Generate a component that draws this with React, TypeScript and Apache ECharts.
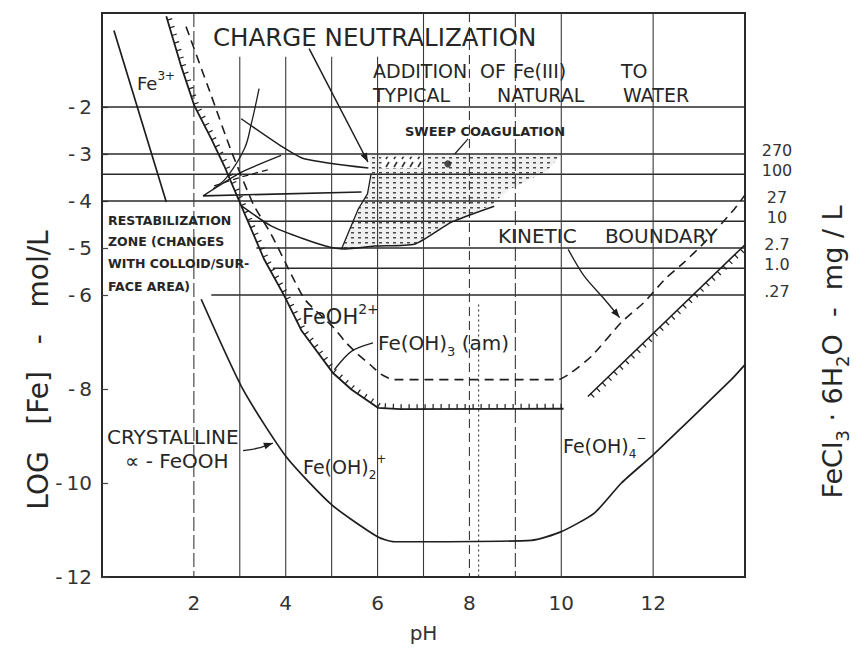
import React, { useEffect, useRef } from 'react';
import * as echarts from 'echarts';

const FONT = '"DejaVu Sans", "Liberation Sans", sans-serif';
const INK = '#1e1e1e';
const TXT = '#262626';

// axis ticks
const xTickValues = [2, 4, 6, 8, 10, 12];
const yTickValues = [-2, -3, -4, -5, -6, -8, -10, -12];

// FeCl3·6H2O reference levels (log mol/L) and their mg/L labels
const levelLogs = [-2, -3, -3.43, -4, -4.43, -5, -5.43, -6];
const levelStartPH = [0, 0, 0, 0, 3.18, 3.36, 3.72, 2.38];
const levelMgL = ['', '270', '100', '27', '10', '2.7', '1.0', '.27'];

// vertical pH guide lines
const guidePH = [2, 3, 4, 5, 6, 7, 8, 8.2, 9, 10, 12];
const guideTopLog = [0, -0.93, -0.93, -0.93, -0.93, 0, 0, -6.2, 0, 0, 0];

// crystalline alpha-FeOOH solubility (gap behind the restabilization note)
const crystPH = [0.26, 1.4, 1.45, 2.16, 3.07, 4.01, 5.01, 6.01, 6.36, 9.35, 9.99, 10.72, 11.31, 12.0, 13.7, 14.0];
const crystLog = [-0.37, -4.02, null, -6.09, -8.01, -9.44, -10.47, -11.15, -11.25, -11.22, -11.04, -10.64, -10.0, -9.4, -7.8, -7.48];

// amorphous Fe(OH)3 boundary (hatched)
const amPH = [1.4, 1.72, 2.01, 2.38, 2.66, 3.03, 3.53, 3.97, 4.34, 5.03, 5.43, 6.01, 6.5, 10.05];
const amLog = [-0.07, -1.12, -1.97, -2.68, -3.25, -4.1, -5.24, -6.02, -6.75, -7.66, -8.01, -8.4, -8.43, -8.42];

// dashed Fe(OH)3(am) curve
const dashPH = [1.83, 2.38, 2.8, 3.3, 3.68, 4.12, 4.42, 5.05, 5.3, 5.56, 5.86, 6.08, 6.35, 9.93, 10.22, 10.66, 11.31, 11.81, 12.25, 12.68, 13.12, 13.77, 14.0];
const dashLog = [-0.29, -1.76, -2.9, -4.08, -4.7, -5.56, -6.1, -6.7, -7.0, -7.25, -7.5, -7.69, -7.8, -7.8, -7.65, -7.3, -6.58, -6.15, -5.67, -5.3, -4.88, -4.17, -3.87];

// high-pH hatched kinetic line
const rhPH = [10.58, 14.0];
const rhLog = [-8.16, -4.93];

// sweep coagulation zone
const sweepPH = [5.82, 10.0, 9.68, 8.8, 8.48, 7.61, 6.8, 5.21, 5.58, 5.78, 5.86];
const sweepLog = [-3.02, -3.02, -3.36, -3.79, -4.09, -4.45, -4.92, -5.03, -4.17, -3.85, -3.42];
const sweepHatchPH = [6.08, 7.02, 7.02, 6.08];
const sweepHatchLog = [-3.06, -3.06, -3.3, -3.3];
const sweepEdgePH = [5.21, 5.58, 5.78, 5.86];
const sweepEdgeLog = [-5.03, -4.17, -3.85, -3.42];
const optimumPH = [7.53];
const optimumLog = [-3.21];

// restabilization / sweep lower boundary
const restabPH = [3.03, 3.68, 4.4, 4.99, 5.3, 5.93, 6.8, 7.61, 8.54];
const restabLog = [-4.1, -4.53, -4.81, -4.99, -5.02, -4.96, -4.92, -4.45, -4.11];

// charge neutralization wedge
const cnAPH = [2.2, 5.65];
const cnALog = [-3.89, -3.81];
const cnBPH = [3.03, 3.9, 4.4, 5.8];
const cnBLog = [-2.25, -2.83, -3.1, -3.3];
const cnCPH = [2.2, 3.03, 3.9];
const cnCLog = [-3.89, -3.39, -3.03];
const cnArcPH = [3.42, 3.25, 3.1, 2.72, 2.42];
const cnArcLog = [-1.61, -2.36, -2.89, -3.49, -3.74];
const cnDashPH = [2.44, 3.03, 3.68];
const cnDashLog = [-3.68, -3.49, -3.32];

// pointers
const cnArrowPH = [4.51, 5.79];
const cnArrowLog = [-0.76, -3.17];
const kinArrowPH = [10.15, 10.5, 10.94, 11.27];
const kinArrowLog = [-5.03, -5.6, -6.09, -6.48];
const crystArrowPH = [3.07, 3.39, 3.72];
const crystArrowLog = [-9.31, -9.26, -9.15];
const amPointerPH = [5.9, 5.43, 5.06];
const amPointerLog = [-7.02, -7.2, -7.59];
const sweepPointerPH = [7.97, 7.68];
const sweepPointerLog = [-2.68, -3.0];

type PathOpt = { width?: number; dash?: number[]; ticks?: number; arrow?: boolean; smooth?: number; color?: string };

function pathSeries(xs: number[], ys: number[], o: PathOpt) {
  const pts = xs.map((x, i) => [x, ys[i]]);
  return {
    type: 'custom',
    silent: true,
    z: 4,
    clip: false,
    data: pts,
    encode: { x: 0, y: 1 },
    renderItem: (params: any, api: any) => {
      if (params.dataIndex !== 0) return null;
      const p = pts.map((q) => api.coord(q));
      const color = o.color || INK;
      const children: any[] = [
        {
          type: 'polyline',
          shape: { points: p, smooth: o.smooth || 0 },
          style: { stroke: color, lineWidth: o.width || 1.6, fill: 'none', lineDash: o.dash || null },
        },
      ];
      if (o.ticks) {
        const spacing = 8;
        const len = 5;
        let acc = spacing / 2;
        for (let i = 0; i < p.length - 1; i++) {
          const [x0, y0] = p[i];
          const [x1, y1] = p[i + 1];
          const dx = x1 - x0;
          const dy = y1 - y0;
          const L = Math.hypot(dx, dy);
          if (!L) continue;
          const ux = dx / L;
          const uy = dy / L;
          const nx = uy * o.ticks;
          const ny = -ux * o.ticks;
          while (acc <= L) {
            const tx = x0 + ux * acc;
            const ty = y0 + uy * acc;
            children.push({
              type: 'line',
              shape: { x1: tx, y1: ty, x2: tx + nx * len, y2: ty + ny * len },
              style: { stroke: color, lineWidth: 1.2 },
            });
            acc += spacing;
          }
          acc -= L;
        }
      }
      if (o.arrow) {
        const n = p.length;
        const [x1, y1] = p[n - 1];
        const [x0, y0] = p[n - 2];
        const L = Math.hypot(x1 - x0, y1 - y0) || 1;
        const ux = (x1 - x0) / L;
        const uy = (y1 - y0) / L;
        const bx = x1 - ux * 9;
        const by = y1 - uy * 9;
        children.push({
          type: 'polygon',
          shape: { points: [[x1, y1], [bx - uy * 3.5, by + ux * 3.5], [bx + uy * 3.5, by - ux * 3.5]] },
          style: { fill: color },
        });
      }
      return { type: 'group', children };
    },
  };
}

function lineSeries(xs: number[], ys: (number | null)[], o: { width?: number; type?: any; smooth?: number; color?: string; z?: number }) {
  return {
    type: 'line',
    data: xs.map((x, i) => [x, ys[i]]),
    symbol: 'none',
    showSymbol: false,
    silent: true,
    connectNulls: false,
    smooth: o.smooth || 0,
    z: o.z || 3,
    lineStyle: { color: o.color || INK, width: o.width || 1.6, type: o.type || 'solid' },
  };
}

function polygonSeries(xs: number[], ys: number[], fill: any, z: number) {
  const pts = xs.map((x, i) => [x, ys[i]]);
  return {
    type: 'custom',
    silent: true,
    z,
    data: pts,
    encode: { x: 0, y: 1 },
    renderItem: (params: any, api: any) => {
      if (params.dataIndex !== 0) return null;
      return {
        type: 'polygon',
        shape: { points: pts.map((q) => api.coord(q)) },
        style: { fill, stroke: 'none' },
      };
    },
  };
}

function guideStyle(ph: number): any {
  if (ph === 8) return [9, 5];
  if (ph === 8.2) return [2, 3];
  if (ph === 2 || ph === 9) return [14, 4];
  return 'solid';
}

function dotPattern() {
  const c = document.createElement('canvas');
  c.width = 7;
  c.height = 5;
  const g = c.getContext('2d')!;
  g.fillStyle = '#f0f0f0';
  g.fillRect(0, 0, 7, 5);
  g.fillStyle = '#4a4a4a';
  g.fillRect(1, 2, 3, 1.5);
  return { image: c, repeat: 'repeat' };
}

function hatchPattern() {
  const c = document.createElement('canvas');
  c.width = 8;
  c.height = 8;
  const g = c.getContext('2d')!;
  g.fillStyle = '#ffffff';
  g.fillRect(0, 0, 8, 8);
  g.strokeStyle = '#333';
  g.lineWidth = 1.6;
  g.beginPath();
  g.moveTo(2, 7);
  g.lineTo(5, 2);
  g.stroke();
  return { image: c, repeat: 'repeat' };
}

const richFor = (size: number) => {
  const s = Math.round(size * 0.65);
  return {
    sup: { fontSize: s, fontFamily: FONT, fill: TXT, color: TXT, verticalAlign: 'top', lineHeight: s },
    sub: { fontSize: s, fontFamily: FONT, fill: TXT, color: TXT, verticalAlign: 'bottom', lineHeight: s },
  };
};

function txt(text: string, x: number, y: number, size: number, o: any = {}) {
  const style: any = {
    text,
    fontSize: size,
    fontFamily: FONT,
    fontWeight: o.weight || 'normal',
    fill: TXT,
    align: o.align || 'left',
    verticalAlign: 'middle',
    textAlign: o.align || 'left',
    textVerticalAlign: 'middle',
  };
  if (o.rich) {
    style.rich = richFor(size);
    style.lineHeight = Math.round(size * 1.45);
  }
  return { type: 'text', x, y, z: 50, silent: true, rotation: o.rotation || 0, style };
}

function buildOption() {
  const series: any[] = [];

  // sweep coagulation zone
  series.push(polygonSeries(sweepPH, sweepLog, dotPattern(), 1));
  series.push(polygonSeries(sweepHatchPH, sweepHatchLog, hatchPattern(), 1));

  // horizontal reference levels
  levelLogs.forEach((v, i) => {
    series.push(lineSeries([levelStartPH[i], 14], [v, v], { width: 1.4, color: '#2a2a2a', z: 2 }));
  });
  // right side mg/L labels
  series.push({
    type: 'custom',
    silent: true,
    z: 5,
    clip: false,
    data: levelLogs.map((v, i) => [14, v, i]),
    encode: { x: 0, y: 1 },
    renderItem: (params: any, api: any) => {
      const i = params.dataIndex;
      const label = levelMgL[i];
      if (!label) return null;
      const c = api.coord([14, levelLogs[i]]);
      return {
        type: 'text',
        x: c[0] + 32,
        y: c[1] - 4,
        style: { text: label, fontSize: 16, fontFamily: FONT, fill: '#333', align: 'center', verticalAlign: 'middle' },
      };
    },
  });

  // vertical guides
  guidePH.forEach((ph, i) => {
    series.push(lineSeries([ph, ph], [guideTopLog[i], -12], { width: 1.1, color: '#3a3a3a', type: guideStyle(ph), z: 2 }));
  });

  // main curves
  series.push(lineSeries(crystPH, crystLog, { width: 1.7, smooth: 0.2 }));
  series.push(lineSeries(dashPH, dashLog, { width: 1.6, type: [9, 6], smooth: 0.2 }));
  series.push(pathSeries(amPH, amLog, { width: 1.8, ticks: 1 }));
  series.push(pathSeries(rhPH, rhLog, { width: 1.6, ticks: -1 }));

  // restabilization / sweep boundaries
  series.push(lineSeries(restabPH, restabLog, { width: 1.5, smooth: 0.2 }));
  series.push(lineSeries(sweepEdgePH, sweepEdgeLog, { width: 1.3 }));

  // charge neutralization wedge
  series.push(lineSeries(cnAPH, cnALog, { width: 1.6 }));
  series.push(lineSeries(cnBPH, cnBLog, { width: 1.5, smooth: 0.2 }));
  series.push(lineSeries(cnCPH, cnCLog, { width: 1.3, smooth: 0.2 }));
  series.push(pathSeries(cnArcPH, cnArcLog, { width: 1.3, smooth: 0.4 }));
  series.push(lineSeries(cnDashPH, cnDashLog, { width: 1.3, type: [6, 4], smooth: 0.2 }));

  // pointers
  series.push(pathSeries(cnArrowPH, cnArrowLog, { width: 1.5, arrow: true }));
  series.push(pathSeries(kinArrowPH, kinArrowLog, { width: 1.3, arrow: true, smooth: 0.3 }));
  series.push(pathSeries(crystArrowPH, crystArrowLog, { width: 1.3, arrow: true, smooth: 0.3 }));
  series.push(pathSeries(amPointerPH, amPointerLog, { width: 1.3, smooth: 0.3 }));
  series.push(pathSeries(sweepPointerPH, sweepPointerLog, { width: 1.2 }));

  series.push({
    type: 'scatter',
    silent: true,
    z: 6,
    symbolSize: 7,
    itemStyle: { color: INK },
    data: optimumPH.map((x, i) => [x, optimumLog[i]]),
  });

  const graphic = [
    txt('CHARGE NEUTRALIZATION', 213, 37, 24.5),
    txt('ADDITION', 373, 71, 19),
    txt('OF', 480, 71, 19),
    txt('Fe(III)', 513, 71, 19),
    txt('TO', 621, 71, 19),
    txt('TYPICAL', 373, 95, 19),
    txt('NATURAL', 497, 95, 19),
    txt('WATER', 623, 95, 19),
    txt('SWEEP COAGULATION', 405, 131, 13, { weight: 'bold' }),
    txt('KINETIC', 498, 236, 20),
    txt('BOUNDARY', 605, 236, 20),
    txt('RESTABILIZATION', 108, 220, 12.5, { weight: 'bold' }),
    txt('ZONE (CHANGES', 108, 241, 12.5, { weight: 'bold' }),
    txt('WITH COLLOID/SUR-', 108, 263, 12.5, { weight: 'bold' }),
    txt('FACE AREA)', 108, 286, 12.5, { weight: 'bold' }),
    txt('Fe{sup|3+}', 137, 83, 18, { rich: true }),
    txt('FeOH{sup|2+}', 302, 317, 21, { rich: true }),
    txt('Fe(OH){sub|3} (am)', 378, 343, 20, { rich: true }),
    txt('CRYSTALLINE', 107, 437, 20),
    txt('∝ - FeOOH', 125, 461, 20),
    txt('Fe(OH){sub|2}{sup|+}', 303, 467, 19, { rich: true }),
    txt('Fe(OH){sub|4}{sup|−}', 563, 446, 19, { rich: true }),
    txt('LOG   [Fe]   -   mol/L', 38, 370, 28, { rotation: Math.PI / 2, align: 'center' }),
    txt('FeCl{sub|3} · 6H{sub|2}O  -  mg / L', 832, 352, 27, { rotation: Math.PI / 2, align: 'center', rich: true }),
  ];

  return {
    animation: false,
    backgroundColor: '#ffffff',
    grid: {
      left: 102,
      right: 115,
      top: 13,
      bottom: 76,
      show: true,
      borderColor: '#2a2a2a',
      borderWidth: 2,
      backgroundColor: 'transparent',
    },
    xAxis: {
      type: 'value',
      min: 0,
      max: 14,
      interval: 1,
      name: 'pH',
      nameLocation: 'middle',
      nameGap: 46,
      nameTextStyle: { fontSize: 20, fontFamily: FONT, color: '#333' },
      axisLine: { show: false },
      axisTick: { show: false },
      splitLine: { show: false },
      axisLabel: {
        customValues: xTickValues,
        formatter: (v: number) => (xTickValues.includes(v) ? String(v) : ''),
        fontSize: 20,
        fontFamily: FONT,
        color: '#333',
        margin: 16,
      },
    },
    yAxis: {
      type: 'value',
      min: -12,
      max: 0,
      interval: 1,
      axisLine: { show: false },
      axisTick: { show: true, inside: true, length: 6, customValues: yTickValues, lineStyle: { color: '#444', width: 1.2 } },
      splitLine: { show: false },
      axisLabel: {
        customValues: yTickValues,
        formatter: (v: number) => (yTickValues.includes(v) ? '-' + '\u2009' + Math.abs(v) : ''),
        fontSize: 20,
        fontFamily: FONT,
        color: '#333',
        margin: 10,
      },
    },
    graphic,
    series,
  };
}

export default function App() {
  const ref = useRef<HTMLDivElement>(null);
  useEffect(() => {
    const chart = echarts.init(ref.current!, null, { renderer: 'svg' });
    chart.setOption(buildOption() as any);
    return () => chart.dispose();
  }, []);
  return (
    <div
      ref={ref}
      style={{ position: 'fixed', left: 0, top: 0, width: 860, height: 653, background: '#fff' }}
    />
  );
}
